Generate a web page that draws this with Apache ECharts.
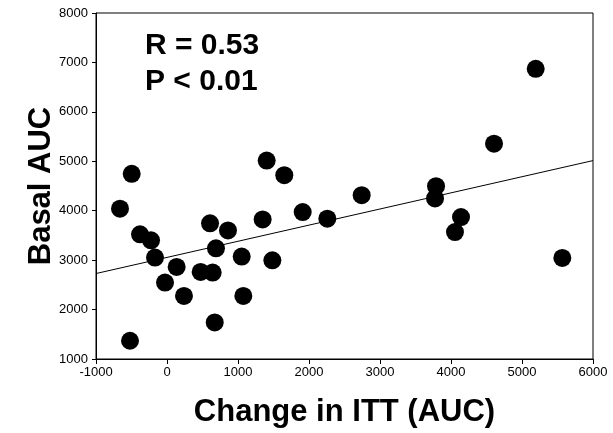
<!DOCTYPE html>
<html>
<head>
<meta charset="utf-8">
<script src="https://cdn.jsdelivr.net/npm/echarts@6/dist/echarts.min.js"></script>
<style>
  html, body { margin: 0; padding: 0; background: #fff; }
  #chart { width: 613px; height: 433px; }
</style>
</head>
<body>
<div id="chart"></div>
<script>
// 散点数据
var ittChange = [-662, -497, -380, -225, -169, -521, -28, 136, 239, 474, 643, 606, 690, 859, 672,
  1052, 1075, 1347, 1404, 1484, 1652, 1911, 2258, 2742, 3789, 3775, 4141, 4056, 4606, 5193, 5568];
var basalAuc = [4040, 4746, 3522, 3400, 3052, 1369, 2547, 2862, 2277, 2761, 2748, 3744, 3239, 3602, 1740,
  3072, 2277, 3824, 5014, 2997, 4718, 3972, 3838, 4315, 4497, 4248, 3871, 3569, 5357, 6870, 3044];
// 回归线两端
var fitX = [-1000, 6000];
var fitY = [2729, 5014];
var statLines = ['R = 0.53', 'P < 0.01'];

var font = 'Liberation Sans, Arial, sans-serif';

function createChart() {
  let dom = document.getElementById('chart');
  let myChart = echarts.init(dom);

  let points = ittChange.map(function (x, i) {
    return [x, basalAuc[i]];
  });
  let fitLine = fitX.map(function (x, i) {
    return [x, fitY[i]];
  });

  let option = {
    backgroundColor: '#fff',
    animation: false,
    grid: {
      left: 96,
      right: 20,
      top: 13,
      bottom: 73,
      show: true,
      borderColor: '#000',
      borderWidth: 1
    },
    xAxis: {
      type: 'value',
      min: -1000,
      max: 6000,
      interval: 1000,
      name: 'Change in ITT (AUC)',
      nameLocation: 'middle',
      nameMoveOverlap: false,
      nameGap: 38,
      nameTextStyle: { fontFamily: font, fontWeight: 'bold', fontSize: 31, color: '#000' },
      axisLine: { onZero: false, lineStyle: { color: '#000', width: 1 } },
      axisTick: { show: true, inside: false, length: 5, lineStyle: { color: '#000' } },
      axisLabel: { fontFamily: font, fontSize: 13, color: '#000', margin: 7, formatter: function (v) { return String(v); } },
      splitLine: { show: false }
    },
    yAxis: {
      type: 'value',
      min: 1000,
      max: 8000,
      interval: 1000,
      name: 'Basal AUC',
      nameLocation: 'middle',
      nameMoveOverlap: false,
      nameGap: 39,
      nameTextStyle: { fontFamily: font, fontWeight: 'bold', fontSize: 31, color: '#000' },
      axisLine: { onZero: false, lineStyle: { color: '#000', width: 1 } },
      axisTick: { show: true, inside: false, length: 4, lineStyle: { color: '#000' } },
      axisLabel: { fontFamily: font, fontSize: 13, color: '#000', margin: 8, formatter: function (v) { return String(v); } },
      splitLine: { show: false }
    },
    graphic: [
      {
        type: 'text',
        left: 145,
        top: 31,
        style: { text: statLines[0], fontFamily: font, fontWeight: 'bold', fontSize: 30, fill: '#000' }
      },
      {
        type: 'text',
        left: 145,
        top: 67,
        style: { text: statLines[1], fontFamily: font, fontWeight: 'bold', fontSize: 30, fill: '#000' }
      }
    ],
    series: [
      {
        type: 'line',
        data: fitLine,
        symbol: 'none',
        lineStyle: { color: '#000', width: 1 },
        z: 1
      },
      {
        type: 'scatter',
        data: points,
        symbol: 'circle',
        symbolSize: 18,
        itemStyle: { color: '#000', opacity: 1 },
        z: 2
      }
    ]
  };

  myChart.setOption(option, true);
}

createChart();
</script>
</body>
</html>
